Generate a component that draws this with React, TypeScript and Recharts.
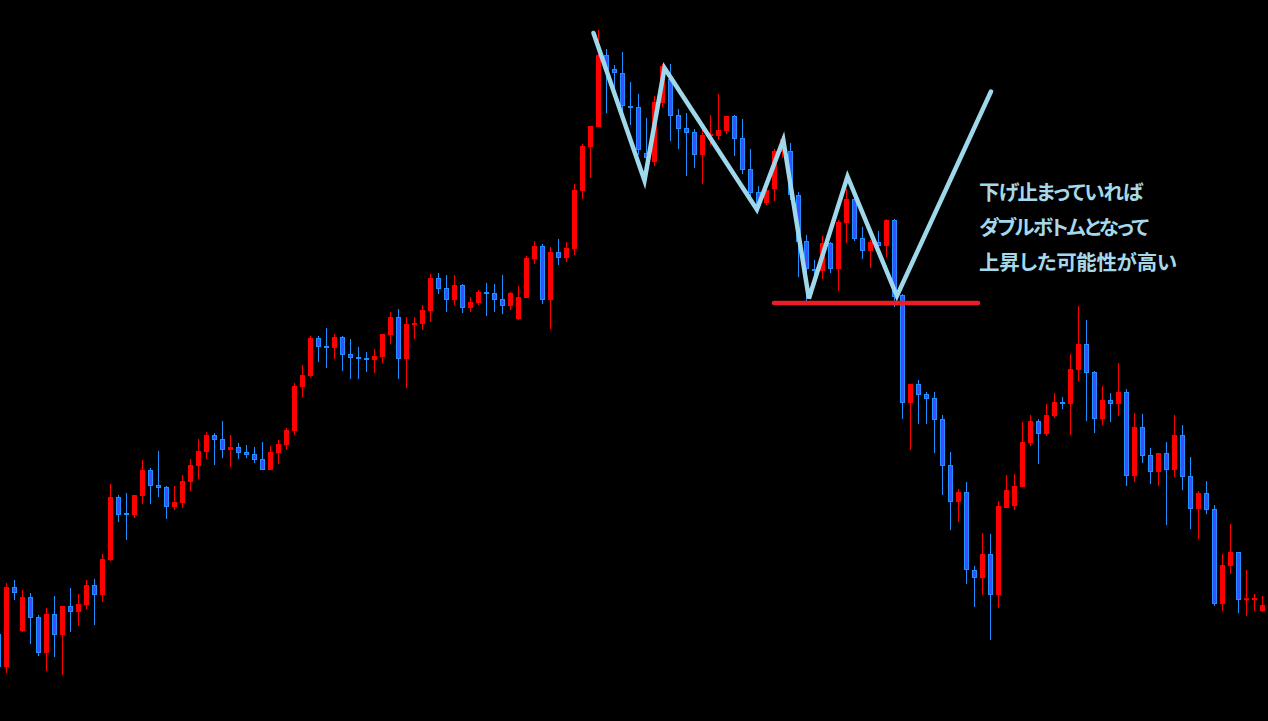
import { ComposedChart, Bar, Line, XAxis, YAxis } from 'recharts'

// candle index of the first entry (the half-hidden candle at the left edge)
const FIRST_INDEX = -1

const opens = [
  87, 54, 134, 90, 124, 104, 68, 107, 86, 115, 109, 116, 136, 126, 161, 224, 207.5, 206, 225, 251,
  236, 234, 214, 218, 239, 255, 269, 286, 282, 271, 274, 269, 267, 262, 251, 268, 276, 290, 334, 345,
  383, 374.5, 373, 384, 367, 363.5, 362.5, 361, 364, 386, 404, 362, 396, 397, 410, 443, 433, 421, 436, 413,
  418, 428.5, 428, 422, 415, 402, 423, 462, 475, 421, 469, 463, 472, 530, 574, 594, 666, 652, 648, 614.5,
  614, 568, 559, 618, 642, 606, 593, 589, 566, 585, 585, 590, 605, 583, 552, 529, 518, 532, 569, 570,
  526, 480, 452, 450, 478, 452, 498, 522, 483, 470, 479, 475, 501, 426, 318, 337, 327, 323, 302, 256,
  219, 229, 151, 143, 167, 126, 213, 215, 234, 278, 300, 287, 305, 318.5, 317, 351, 377, 349, 302, 321,
  317, 329, 245, 294, 266, 249, 268, 251, 286, 245, 212, 228, 212, 117, 155, 169, 121.5, 121, 110,
]

const highs = [
  91, 138, 141, 131, 128, 106, 113, 125, 115, 133, 127, 141, 142, 167, 237, 226, 228, 226, 261, 253,
  270, 235, 235, 246, 262, 282, 289, 288, 300, 286, 278, 276, 274, 279, 275, 281, 293, 338, 356, 385,
  385, 393, 387, 385, 382, 374, 369, 372, 387, 409, 412, 404, 404, 416, 447, 448, 446, 446, 437, 424,
  431, 438, 437, 446, 429, 435, 465, 480, 477, 474, 482, 479, 537, 577, 595, 691, 672, 656, 669, 639,
  627, 603, 625, 657, 657, 612, 608, 592, 591, 606, 627, 605, 606, 602, 572, 535, 534, 572, 585, 578,
  529, 486, 461, 485, 479, 501, 532, 524, 494, 481, 490, 502, 502, 427, 337, 341, 329, 329, 306, 269,
  232, 239, 155, 188, 187, 220, 246, 247, 299, 306, 302, 317, 328, 324, 367, 415, 401, 350, 335, 328,
  358, 332, 308, 307, 273, 268, 279, 306, 296, 264, 230, 240, 216, 167, 197, 169, 151, 127, 125,
]

const lows = [
  51, 48, 121, 89, 77, 65, 50, 64, 46, 89, 95, 112, 96, 119, 160, 199, 181, 203, 217, 217,
  224, 202, 211, 213, 230, 242, 262, 256, 263, 254, 262, 263, 258, 251, 251, 257, 271, 286, 324, 344,
  359, 353, 362, 350, 342, 342, 349, 348, 358, 377, 342, 333, 382, 391, 399, 427, 409, 416, 408, 409,
  416, 405, 409, 407, 411, 401, 423, 457, 417, 392, 456, 459, 466, 522, 543, 594, 608, 623, 598, 596,
  566, 551, 555, 614, 580, 572, 545, 553, 537, 576, 581, 587, 565, 547, 525, 510, 516, 520, 563, 521,
  444, 416, 441, 442, 448, 430, 478, 480, 462, 453, 471, 464, 414, 302, 271, 297, 297, 268, 226, 191,
  199, 137, 114, 126, 81, 113, 213, 211, 234, 275, 257, 285, 303, 312, 286, 340, 300, 288, 296, 299,
  305, 235, 239, 258, 237, 235, 196, 244, 231, 192, 182, 207, 115, 110, 147, 108, 105, 110, 109,
]

const closes = [
  54, 134, 128, 124, 103, 68, 107, 86, 115, 109, 117, 136, 126, 162, 224, 206, 206.5, 226, 251, 235,
  233, 214, 219, 240, 256, 270, 286, 281, 271, 274, 268, 266, 261, 251, 269, 277, 291, 335, 346, 383,
  374, 373.5, 384, 366, 363, 362.5, 361.5, 365, 387, 404, 362, 397, 398, 411, 443, 432, 421, 436, 413, 419,
  429, 427.5, 421, 415, 428, 424, 463, 475, 421, 469, 463, 473, 531, 575, 595, 666, 651, 648, 615, 613.5,
  571, 563, 619, 655, 605, 592, 588, 566, 586, 587, 591, 605, 582, 551, 528, 515, 531, 570, 582, 526,
  479, 452, 450, 478, 452, 499, 522, 482, 470, 479, 475, 501, 424, 318, 337, 326, 322, 301, 255, 219,
  229, 151, 143, 167, 126, 215, 231, 235, 279, 300, 287, 306, 319, 317.5, 352, 377, 348, 302, 321, 317,
  329, 245, 294, 265, 249, 268, 251, 286, 244, 212, 228, 211, 117, 156, 169, 121, 122, 123, 116,
]

// zigzag drawn over the candles (x in candle index units)
const zigX = [73.375, 79.75, 82.25, 93.8, 97.1, 100.3, 105.125, 111.3, 123.06]
const zigY = [688, 540.5, 653, 511.5, 581, 422.5, 544.5, 425, 629.5]

// neckline of the double bottom
const supportX = [95.94, 121.44]
const supportY = [418, 418]

const noteLines = ['下げ止まっていれば', 'ダブルボトムとなって', '上昇した可能性が高い']

const RED = '#ff0000'
const BLUE_FILL = '#3d4dff'
const BLUE_EDGE = '#1e90ff'
const LINE_BLUE = '#9fd8ea'
const TEXT_BLUE = '#a4d8ea'

const candles = opens.map((open, k) => ({
  i: FIRST_INDEX + k,
  open,
  high: highs[k],
  low: lows[k],
  close: closes[k],
}))

const zigzag = zigX.map((x, k) => ({ x, y: zigY[k] }))
const support = supportX.map((x, k) => ({ x, y: supportY[k] }))

const Candle = (props: any) => {
  const { x, y, width, height, payload } = props
  if (x == null || !payload) return null
  const { open, close, high, low } = payload
  const py = (v: number) => y + ((high - v) / (high - low)) * height
  const cx = x + width / 2
  const up = close >= open
  const yo = py(open)
  const yc = py(close)
  let top = Math.min(yo, yc)
  let h = Math.abs(yo - yc)
  if (h < 2) {
    top = (yo + yc) / 2 - 1
    h = 2
  }
  return (
    <g>
      <rect x={cx - 0.5} y={y} width={1} height={height} fill={up ? RED : BLUE_EDGE} />
      {up ? (
        <rect x={cx - 2.5} y={top} width={5} height={h} fill={RED} />
      ) : (
        <rect
          x={cx - 2}
          y={top + 0.5}
          width={4}
          height={h - 1}
          fill={BLUE_FILL}
          stroke={BLUE_EDGE}
          strokeWidth={1}
        />
      )}
    </g>
  )
}

export default function App() {
  return (
    <div
      style={{
        position: 'fixed',
        left: 0,
        top: 0,
        width: 1268,
        height: 721,
        background: '#000',
        overflow: 'hidden',
      }}
    >
      <div style={{ position: 'absolute', left: -8, top: 0 }}>
        <ComposedChart
          width={1276}
          height={721}
          data={candles}
          margin={{ top: 0, right: 1.5, bottom: 0, left: 2.5 }}
        >
          <XAxis xAxisId="c" dataKey="i" type="category" hide />
          <XAxis
            xAxisId="o"
            dataKey="x"
            type="number"
            domain={[-1.5, 157.5]}
            allowDataOverflow
            hide
          />
          <YAxis domain={[0, 721]} allowDataOverflow hide />
          <Bar
            xAxisId="c"
            dataKey={(d: any) => [d.low, d.high]}
            barSize={6}
            shape={<Candle />}
            isAnimationActive={false}
          />
          <Line
            xAxisId="o"
            data={support}
            dataKey="y"
            type="linear"
            stroke="#ee1c25"
            strokeWidth={4.5}
            strokeLinecap="round"
            dot={false}
            activeDot={false}
            isAnimationActive={false}
          />
          <Line
            xAxisId="o"
            data={zigzag}
            dataKey="y"
            type="linear"
            stroke={LINE_BLUE}
            strokeWidth={4.5}
            strokeLinecap="round"
            dot={false}
            activeDot={false}
            isAnimationActive={false}
          />
        </ComposedChart>
      </div>
      <svg
        width={1268}
        height={721}
        style={{ position: 'absolute', left: 0, top: 0, pointerEvents: 'none' }}
      >
        {noteLines.map((t, k) => (
          <text
            key={k}
            x={979}
            y={199.5 + k * 35}
            fill={TEXT_BLUE}
            fontFamily="'Noto Sans CJK JP', sans-serif"
            fontWeight="bold"
            fontSize={20.5}
            textLength={[164, 170, 198][k]}
            lengthAdjust="spacing"
            style={{ fontFeatureSettings: '"palt"' }}
          >
            {t}
          </text>
        ))}
      </svg>
    </div>
  )
}
